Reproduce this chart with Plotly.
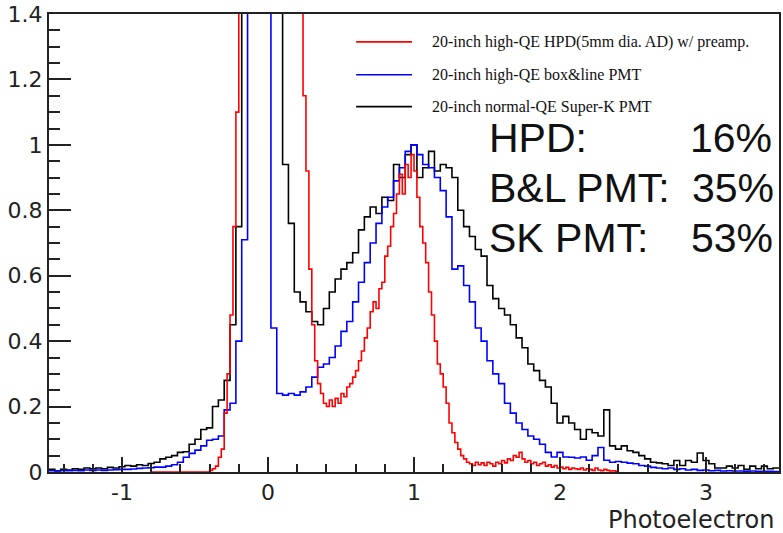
import numpy as np
import plotly.graph_objects as go

# ---- histogram contents (normalised counts per bin) ----
# Super-K PMT and box&line PMT: 0.04 p.e. bins starting at -1.50
COARSE_START = -1.50
COARSE_WIDTH = 0.04

sk_pmt = [
    0.008, 0.004, 0.008, 0.006, 0.010, 0.008, 0.012, 0.010, 0.012, 0.010,
    0.014, 0.012, 0.016, 0.020, 0.018, 0.022, 0.020, 0.026, 0.030, 0.040,
    0.045, 0.050, 0.060, 0.062, 0.085, 0.100, 0.130, 0.135, 0.200, 0.220,
    0.280, 0.450, 0.750, 2.500, 4.500, 6.500, 8.000, 8.000, 6.000, 3.000,
    0.940, 0.760, 0.550, 0.520, 0.490, 0.460, 0.450, 0.500, 0.550, 0.590,
    0.620, 0.640, 0.670, 0.740, 0.780, 0.810, 0.790, 0.840, 0.830, 0.940,
    0.900, 0.970, 1.000, 0.900, 0.930, 0.980, 0.920, 0.940, 0.930, 0.900,
    0.800, 0.750, 0.720, 0.680, 0.660, 0.570, 0.530, 0.500, 0.480, 0.450,
    0.410, 0.380, 0.330, 0.310, 0.280, 0.260, 0.210, 0.150, 0.170, 0.150,
    0.130, 0.100, 0.130, 0.120, 0.110, 0.190, 0.080, 0.070, 0.080, 0.065,
    0.060, 0.050, 0.040, 0.030, 0.028, 0.025, 0.020, 0.035, 0.020, 0.035,
    0.030, 0.058, 0.035, 0.025, 0.012, 0.012, 0.018, 0.012, 0.020, 0.008,
    0.018, 0.010, 0.018, 0.010, 0.012,
]

bl_pmt = [
    0.004, 0.003, 0.005, 0.004, 0.005, 0.004, 0.006, 0.005, 0.006, 0.005,
    0.006, 0.007, 0.008, 0.008, 0.009, 0.011, 0.012, 0.013, 0.015, 0.015,
    0.018, 0.022, 0.030, 0.045, 0.057, 0.067, 0.080, 0.097, 0.100, 0.110,
    0.190, 0.210, 0.400, 0.710, 3.000, 6.000, 9.000, 8.000, 0.440, 0.240,
    0.235, 0.240, 0.235, 0.245, 0.260, 0.290, 0.320, 0.330, 0.350, 0.385,
    0.430, 0.460, 0.520, 0.580, 0.640, 0.700, 0.760, 0.810, 0.840, 0.890,
    0.930, 0.980, 1.000, 0.970, 0.940, 0.930, 0.900, 0.860, 0.780, 0.620,
    0.630, 0.570, 0.520, 0.440, 0.400, 0.340, 0.300, 0.270, 0.210, 0.180,
    0.150, 0.130, 0.110, 0.100, 0.085, 0.060, 0.046, 0.060, 0.046, 0.045,
    0.043, 0.046, 0.036, 0.050, 0.075, 0.036, 0.030, 0.032, 0.030, 0.027,
    0.025, 0.020, 0.018, 0.014, 0.012, 0.010, 0.012, 0.008, 0.010, 0.006,
    0.008, 0.005, 0.006, 0.004, 0.005, 0.003, 0.004, 0.003, 0.003, 0.002,
    0.003, 0.002, 0.002, 0.002, 0.001,
]

# HPD: finer 0.02 p.e. bins starting at -0.80
FINE_START = -0.80
FINE_WIDTH = 0.02

hpd = [
    0.0, 0.0, 0.0, 0.0, 0.0, 0.0, 0.0, 0.0, 0.0, 0.0,
    0.0, 0.0, 0.0, 0.0, 0.0, 0.0, 0.0, 0.0, 0.0, 0.0,
    0.005, 0.010, 0.018, 0.045, 0.070, 0.180, 0.300, 0.480, 0.750, 1.100,
    2.5, 4.0, 6.0, 8.0, 10.0, 12.0, 13.0, 14.0, 14.0, 13.0, 12.0,
    10.0, 8.0, 6.0, 5.0, 4.0, 3.5, 3.0, 2.6, 2.2, 1.9, 1.6,
    1.150, 0.920, 0.620, 0.450, 0.340, 0.270, 0.240, 0.210, 0.200, 0.220,
    0.200, 0.225, 0.210, 0.240, 0.230, 0.260, 0.270, 0.290, 0.310, 0.340,
    0.370, 0.410, 0.440, 0.490, 0.520, 0.500, 0.560, 0.580, 0.660, 0.690,
    0.750, 0.790, 0.850, 0.910, 0.850, 0.940, 0.900, 0.970, 0.920, 0.840,
    0.750, 0.700, 0.640, 0.550, 0.480, 0.400, 0.330, 0.300, 0.260, 0.210,
    0.150, 0.120, 0.090, 0.070, 0.050, 0.040, 0.030, 0.025, 0.020, 0.030,
    0.022, 0.028, 0.020, 0.030, 0.025, 0.018, 0.030, 0.025, 0.035, 0.028,
    0.040, 0.035, 0.050, 0.045, 0.060, 0.040, 0.030, 0.035, 0.025, 0.030,
    0.020, 0.025, 0.030, 0.018, 0.022, 0.015, 0.020, 0.012, 0.015, 0.010,
    0.014, 0.008, 0.012, 0.010, 0.008, 0.012, 0.006, 0.010, 0.008, 0.005,
    0.012, 0.006, 0.004, 0.008, 0.005, 0.003, 0.004, 0.002,
]

series_names = [
    "20-inch high-QE HPD(5mm dia. AD) w/ preamp.",
    "20-inch high-QE box&line PMT",
    "20-inch normal-QE Super-K PMT",
]
series_colors = ["#ff0000", "#0000ff", "#000000"]

resolution_labels = ["HPD:", "B&L PMT:", "SK PMT:"]
resolution_values = ["16%", "35%", "53%"]

y_tick_vals = [0, 0.2, 0.4, 0.6, 0.8, 1.0, 1.2, 1.4]
y_tick_text = ["0", "0.2", "0.4", "0.6", "0.8", "1", "1.2", "1.4"]
x_tick_vals = [-1, 0, 1, 2, 3]
x_tick_text = ["-1", "0", "1", "2", "3"]


def step_points(start, width, contents):
    edges = start + width * np.arange(len(contents) + 1)
    heights = list(contents) + [contents[-1]]
    return edges, heights


fig = go.Figure()

# draw order: SK below, B&L, HPD on top
for contents, start, width, idx in [
    (sk_pmt, COARSE_START, COARSE_WIDTH, 2),
    (bl_pmt, COARSE_START, COARSE_WIDTH, 1),
    (hpd, FINE_START, FINE_WIDTH, 0),
]:
    xs, ys = step_points(start, width, contents)
    fig.add_trace(go.Scatter(
        x=xs, y=ys, mode="lines", line_shape="hv",
        line=dict(color=series_colors[idx], width=1.6),
        name=series_names[idx], showlegend=False,
    ))

W, H = 783, 533
ML, MR, MT, MB = 49, 2, 12, 61
PW, PH = W - ML - MR, H - MT - MB


def px_to_paper_x(px):
    return (px - ML) / PW


def px_to_paper_y(py):
    return (H - MB - py) / PH


shapes = []
annotations = []

# legend block
legend_rows_y = [40, 73, 105]
for name, color, ry in zip(series_names, series_colors, legend_rows_y):
    shapes.append(dict(
        type="line", xref="paper", yref="paper",
        x0=px_to_paper_x(357), x1=px_to_paper_x(413),
        y0=px_to_paper_y(ry), y1=px_to_paper_y(ry),
        line=dict(color=color, width=1.6),
    ))
    annotations.append(dict(
        xref="paper", yref="paper", x=px_to_paper_x(431), y=px_to_paper_y(ry),
        text=name, showarrow=False, xanchor="left", yanchor="middle",
        font=dict(family="Liberation Serif", size=16, color="#111"),
    ))

# energy resolution block
res_rows_y = [137, 187, 237]
res_right_px = [776, 778, 777]
for lab, val, ry, rx in zip(resolution_labels, resolution_values, res_rows_y, res_right_px):
    annotations.append(dict(
        xref="paper", yref="paper", x=px_to_paper_x(488), y=px_to_paper_y(ry),
        text=lab, showarrow=False, xanchor="left", yanchor="middle",
        font=dict(family="Liberation Sans", size=41, color="#111"),
    ))
    annotations.append(dict(
        xref="paper", yref="paper", x=px_to_paper_x(rx), y=px_to_paper_y(ry),
        text=val, showarrow=False, xanchor="right", yanchor="middle",
        font=dict(family="Liberation Sans", size=41, color="#111"),
    ))

# x-axis title, right aligned under the axis
annotations.append(dict(
    xref="paper", yref="paper", x=px_to_paper_x(779), y=px_to_paper_y(520),
    text="Photoelectron", showarrow=False, xanchor="right", yanchor="middle",
    font=dict(family="DejaVu Sans", size=24, color="#222"),
))

tick_font = dict(family="DejaVu Sans", size=22, color="#222")

fig.update_layout(
    width=W, height=H,
    margin=dict(l=ML, r=MR, t=MT, b=MB),
    paper_bgcolor="white", plot_bgcolor="white",
    showlegend=False,
    shapes=shapes, annotations=annotations,
    xaxis=dict(
        range=[-1.5, 3.5], showgrid=False, zeroline=False,
        showline=True, linecolor="#222", linewidth=2, mirror=True,
        ticks="inside", ticklen=15, tickwidth=2, tickcolor="#222",
        tickvals=x_tick_vals, ticktext=x_tick_text,
        minor=dict(dtick=0.2, tick0=0, ticks="inside", ticklen=8,
                   tickwidth=2, tickcolor="#222", showgrid=False),
        tickfont=tick_font,
    ),
    yaxis=dict(
        range=[0, 1.4], showgrid=False, zeroline=False,
        showline=True, linecolor="#222", linewidth=2, mirror=True,
        ticks="inside", ticklen=22, tickwidth=2, tickcolor="#222",
        tickvals=y_tick_vals, ticktext=y_tick_text,
        ticklabeloverflow="allow",
        minor=dict(dtick=0.05, tick0=0, ticks="inside", ticklen=11,
                   tickwidth=2, tickcolor="#222", showgrid=False),
        tickfont=tick_font,
    ),
)

fig.write_html("out.html")
